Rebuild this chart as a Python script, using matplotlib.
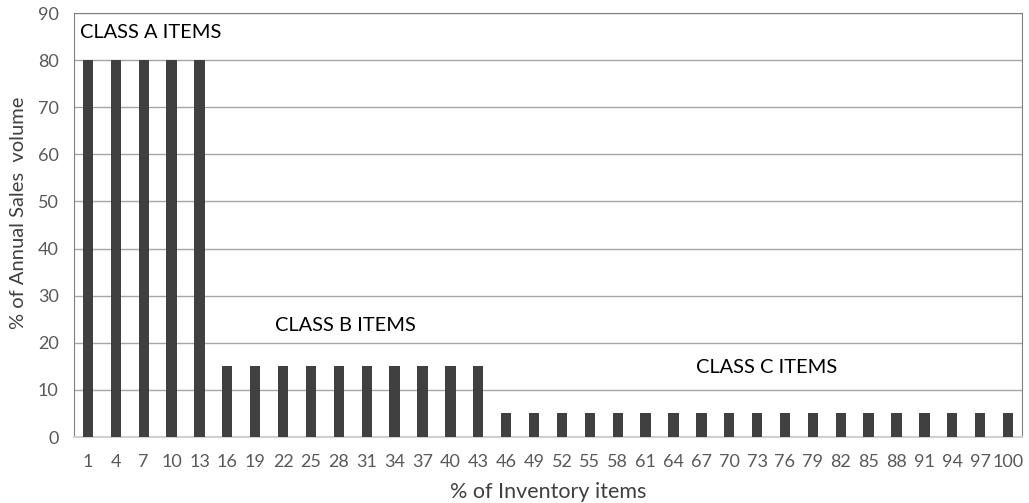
import numpy as np
import matplotlib.pyplot as plt

plt.rcParams['font.family'] = ['Lato', 'DejaVu Sans']

items = [str(v) for v in range(1, 101, 3)]
class_a = [80] * 5
class_b = [15] * 10
class_c = [5] * 19
sales = class_a + class_b + class_c

fig = plt.figure(figsize=(10.29, 5.03), dpi=100)
ax = fig.add_axes([0.0719, 0.1312, 0.9213, 0.8428])

x = np.arange(len(items))
ax.bar(x, sales, width=0.37, color='#404040', zorder=3)

ax.set_xlim(-0.5, len(items) - 0.5)
ax.set_ylim(0, 90)
ax.set_yticks(range(0, 91, 10))
ax.set_xticks(x)
ax.set_xticklabels(items)
ax.yaxis.grid(True, color='#a6a6a6', linewidth=1, zorder=0)
ax.tick_params(axis='both', length=0, labelsize=13, colors='#595959')
ax.tick_params(axis='x', pad=12)
ax.tick_params(axis='y', pad=11)

for s in ['top', 'right', 'left']:
    ax.spines[s].set_color('#808080')
ax.spines['bottom'].set_color('#d0d0d0')
ax.spines['bottom'].set_linewidth(1.5)

ax.set_xlabel('% of Inventory items', fontsize=15.5, color='#404040', labelpad=9)
ax.set_ylabel('% of Annual Sales  volume', fontsize=14.5, color='#404040', labelpad=8)
ax.yaxis.label.set_y(0.528)

ax.text(-0.3, 85.8, 'CLASS A ITEMS', fontsize=14.4, va='center', ha='left', color='black')
ax.text(6.7, 23.6, 'CLASS B ITEMS', fontsize=14.4, va='center', ha='left', color='black')
ax.text(21.8, 14.7, 'CLASS C ITEMS', fontsize=14.4, va='center', ha='left', color='black')

fig.savefig('out.png', dpi=100)
